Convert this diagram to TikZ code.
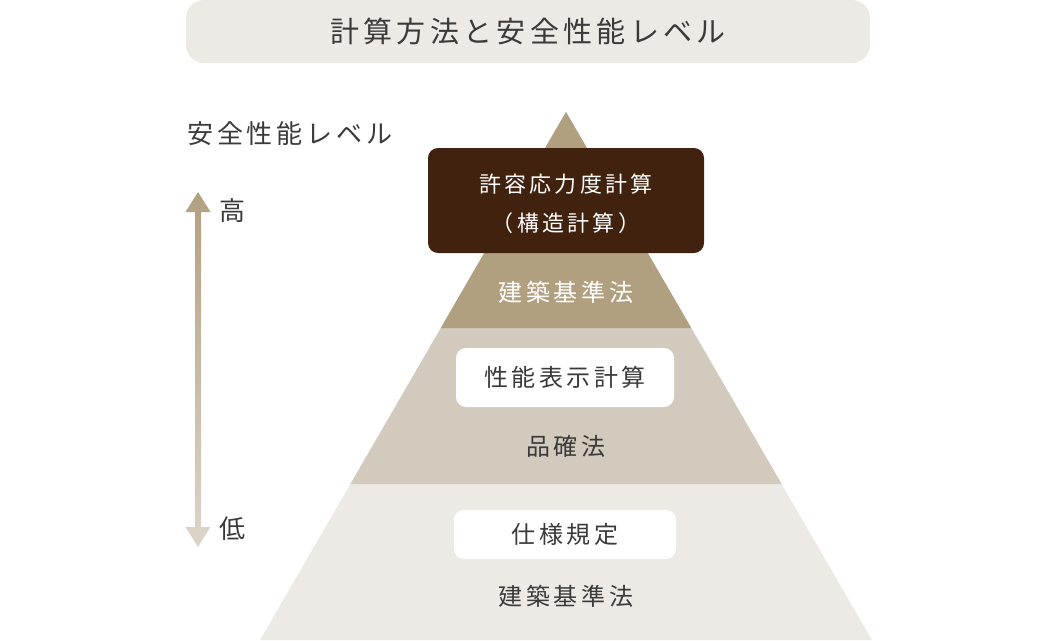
\documentclass[tikz,border=0pt]{standalone}
\usetikzlibrary{calc}
\usepackage{fontspec}
\setmainfont[LetterSpace=15]{Noto Sans CJK JP}
\usepackage{xcolor}
\definecolor{ink}{HTML}{3A3A3A}
\definecolor{sand}{HTML}{EDEAE5}
\definecolor{greige}{HTML}{D2CABD}
\definecolor{khaki}{HTML}{B1A080}
\definecolor{choco}{HTML}{40220F}
\definecolor{fade}{HTML}{DCD5CA}

\begin{document}
\begin{tikzpicture}[x=1pt,y=-1pt,
    every node/.style={text=ink,inner sep=0pt,font=\fontsize{24}{28}\selectfont},
    plate/.style={fill=white,rounded corners=10pt},
    side/.style={font=\fontsize{26}{30}\selectfont}]
      \useasboundingbox (0,0) rectangle (1056,640);
      % pyramid
      \fill[sand]   (566,112) -- (260,640) -- (872,640) -- cycle;
      \fill[greige] (566,112) -- (350.4,484) -- (781.6,484) -- cycle;
      \fill[khaki]  (566,112) -- (440.8,328) -- (691.2,328) -- cycle;
      \node[fill=sand,rounded corners=18pt,minimum width=684pt,minimum height=63pt,font=\fontsize{29}{34}\selectfont] (title) at (528,31.5) {計算方法と安全性能レベル};
      \node[fill=choco,rounded corners=10pt,minimum width=276pt,minimum height=105pt] (kyoyo) at (566,200.5) {};
      \node[text=white,align=center,font=\fontsize{22}{39}\selectfont] (kyoyotext) at (566,204) {許容応力度計算\\（構造計算）};
      \node[text=white] (kijun1) at (566,292) {建築基準法};
      \node[plate,minimum width=218pt,minimum height=59pt] (seino) at (565,377.5) {性能表示計算};
      \node (hinkaku) at (566,446) {品確法};
      \node[plate,minimum width=222pt,minimum height=49pt] (shiyo) at (565,534.5) {仕様規定};
      \node (kijun2) at (566,596) {建築基準法};
      % level axis
      \node[side,anchor=west] (level) at (187,134) {安全性能レベル};
      \node[side] (high) at (232,211) {高};
      \node[side] (low)  at (232,529) {低};
      \coordinate (up) at (198,192);
      \coordinate (down) at (198,547);
      \shade[top color=khaki,bottom color=fade] (up) -- ++(12.5,20) -- ++(-9.5,0) -- ($(down)+(3,-20)$) -- ++(9.5,0) -- (down) -- ++(-12.5,-20) -- ++(9.5,0) -- ($(up)+(-3,20)$) -- ++(-9.5,0) -- cycle;
    \end{tikzpicture}
\end{document}
